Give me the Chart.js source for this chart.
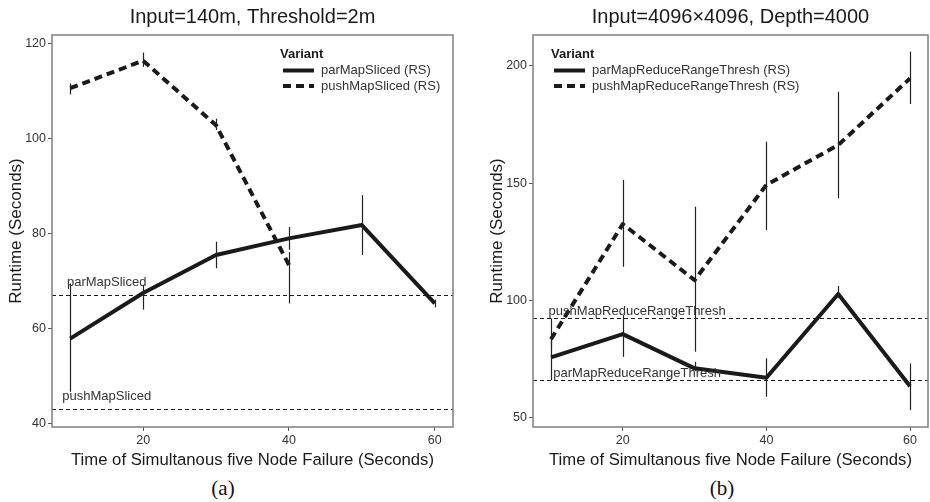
<!DOCTYPE html>
<html>
<head>
<meta charset="utf-8">
<script src="https://cdn.jsdelivr.net/npm/chart.js@4.4.1/dist/chart.umd.min.js"></script>
<style>
  html, body { margin: 0; padding: 0; background: #fff; }
  body { width: 930px; height: 502px; overflow: hidden; position: relative; }
  canvas { position: absolute; top: 0; }
  #chartA { left: 0; }
  #chartB { left: 481px; }
  .cap { position: absolute; width: 100px; text-align: center; top: 476px;
         font-family: "Liberation Serif", "DejaVu Serif", serif; font-size: 21px; line-height: 24px; color: #111; }
</style>
</head>
<body>
<canvas id="chartA" width="465" height="475"></canvas>
<canvas id="chartB" width="459" height="475"></canvas>
<div class="cap" style="left:173px">(a)</div>
<div class="cap" style="left:672px">(b)</div>
<script>
// failure times (x)
var times = [10, 20, 30, 40, 50, 60];
var xTicks = [20, 40, 60];

// panel (a)
var parMapSliced   = [57.8, 67.4, 75.4, 78.9, 81.7, 65.2];
var parMapSlicedLo = [46.6, 63.9, 72.6, 76.5, 75.4, 64.4];
var parMapSlicedHi = [69.4, 69.1, 78.2, 81.3, 88.0, 66.0];
var pushMapSliced   = [110.5, 116.3, 102.7, 73.3];
var pushMapSlicedLo = [109.2, 115.0, 101.7, 65.2];
var pushMapSlicedHi = [111.5, 118.0, 104.1, 76.0];
var yTicksA = [40, 60, 80, 100, 120];
var baselineNamesA = ['parMapSliced', 'pushMapSliced'];
var baselineA      = [67.0, 42.9];
var baselineLabelXA = [15, 15];
var baselineLabelYA = [69.7, 45.7];

// panel (b)
var parMapReduce   = [75.8, 85.7, 71.1, 67.1, 102.8, 63.5];
var parMapReduceLo = [66.1, 76.0, 70.0, 59.0, 101.0, 53.3];
var parMapReduceHi = [85.0, 93.8, 73.9, 75.4, 106.2, 73.2];
var pushMapReduce   = [83.5, 132.6, 108.7, 149.3, 166.3, 194.7];
var pushMapReduceLo = [80.0, 114.4, 78.2, 130.1, 143.6, 183.8];
var pushMapReduceHi = [92.4, 151.4, 140.0, 167.7, 189.0, 206.1];
var yTicksB = [50, 100, 150, 200];
var baselineNamesB = ['pushMapReduceRangeThresh', 'parMapReduceRangeThresh'];
var baselineB      = [92.4, 66.1];
var baselineLabelXB = [22, 22];
var baselineLabelYB = [95.2, 69.1];

Chart.defaults.font.family = '"Liberation Sans", Arial, Helvetica, sans-serif';
Chart.defaults.color = '#333';

function pts(vals) {
	return vals.map(function(v, i) { return {x: times[i], y: v}; });
}

// error bars, reference lines, panel border and the "Variant" legend
var extras = {
	id: 'extras',
	afterDatasetsDraw: function(chart) {
		var ctx = chart.ctx, a = chart.chartArea;
		var xs = chart.scales.x, ys = chart.scales.y;
		var o = chart.options.plugins.extras;
		ctx.save();

		// reference lines + labels
		ctx.strokeStyle = '#1a1a1a';
		ctx.lineWidth = 1;
		ctx.setLineDash([4, 3]);
		o.lines.forEach(function(v) {
			var py = Math.round(ys.getPixelForValue(v)) + 0.5;
			ctx.beginPath();
			ctx.moveTo(a.left, py);
			ctx.lineTo(a.right, py);
			ctx.stroke();
		});
		ctx.setLineDash([]);
		ctx.fillStyle = '#333';
		ctx.font = '13px "Liberation Sans", Arial, sans-serif';
		ctx.textAlign = 'center';
		ctx.textBaseline = 'middle';
		o.names.forEach(function(n, i) {
			ctx.fillText(n, xs.getPixelForValue(o.labelX[i]), ys.getPixelForValue(o.labelY[i]));
		});

		// error bars
		ctx.strokeStyle = '#222';
		ctx.lineWidth = 1.2;
		chart.data.datasets.forEach(function(ds) {
			ds.errLo.forEach(function(lo, i) {
				var px = Math.round(xs.getPixelForValue(times[i])) + 0.5;
				ctx.beginPath();
				ctx.moveTo(px, ys.getPixelForValue(lo));
				ctx.lineTo(px, ys.getPixelForValue(ds.errHi[i]));
				ctx.stroke();
			});
		});

		// panel border
		ctx.strokeStyle = '#7f7f7f';
		ctx.lineWidth = 1.5;
		ctx.strokeRect(a.left, a.top, a.right - a.left, a.bottom - a.top);

		// legend
		var lx = o.legend.x, ly = o.legend.y;
		ctx.fillStyle = '#1a1a1a';
		ctx.textAlign = 'left';
		ctx.font = 'bold 13px "Liberation Sans", Arial, sans-serif';
		ctx.fillText('Variant', lx, ly);
		ctx.font = '13px "Liberation Sans", Arial, sans-serif';
		chart.data.datasets.forEach(function(ds, i) {
			var yy = ly + 16.5 + i * 15.5;
			ctx.strokeStyle = '#1a1a1a';
			ctx.lineWidth = 4;
			ctx.lineCap = 'butt';
			ctx.setLineDash(ds.borderDash || []);
			ctx.beginPath();
			ctx.moveTo(lx + 3, yy);
			ctx.lineTo(lx + 34, yy);
			ctx.stroke();
			ctx.setLineDash([]);
			ctx.fillStyle = '#333';
			ctx.fillText(ds.label, lx + 41, yy);
		});
		ctx.restore();
	}
};

function makePanel(id, title, sets, yMin, yMax, yTicks, extraOpts) {
	return new Chart(document.getElementById(id), {
		type: 'line',
		data: {
			datasets: sets.map(function(s) {
				return {
					label: s.label,
					data: pts(s.vals),
					errLo: s.lo,
					errHi: s.hi,
					borderColor: '#1a1a1a',
					borderWidth: 4,
					borderDash: s.dash,
					borderCapStyle: 'butt',
					borderJoinStyle: 'round',
					pointRadius: 0,
					tension: 0,
					fill: false
				};
			})
		},
		options: {
			responsive: false,
			animation: false,
			layout: { padding: { left: 0, right: 12, top: 0, bottom: 0 } },
			plugins: {
				legend: { display: false },
				tooltip: { enabled: false },
				title: {
					display: true, text: title, fullSize: false,
					color: '#1a1a1a', font: { size: 20, weight: 'normal' },
					padding: { top: 5, bottom: 6 }
				},
				extras: extraOpts
			},
			scales: {
				x: {
					type: 'linear', min: 7.5, max: 62.5,
					afterBuildTicks: function(s) { s.ticks = xTicks.map(function(v) { return {value: v}; }); },
					afterFit: function(s) { s.height = 48; },
					grid: { drawOnChartArea: false, drawTicks: true, tickLength: 4, color: '#555' },
					border: { display: false },
					ticks: { color: '#333', font: { size: 12.5 }, padding: 2, maxRotation: 0 },
					title: { display: true, text: 'Time of Simultanous five Node Failure (Seconds)',
						color: '#1a1a1a', font: { size: 16.7 }, padding: { top: 0, bottom: 4.8 } }
				},
				y: {
					type: 'linear', min: yMin, max: yMax,
					afterBuildTicks: function(s) { s.ticks = yTicks.map(function(v) { return {value: v}; }); },
					afterFit: function(s) { s.width = 52; },
					grid: { drawOnChartArea: false, drawTicks: true, tickLength: 4, color: '#555' },
					border: { display: false },
					ticks: { color: '#333', font: { size: 12.5 }, padding: 2 },
					title: { display: true, text: 'Runtime (Seconds)',
						color: '#1a1a1a', font: { size: 17 }, padding: { top: 6, bottom: 0 } }
				}
			}
		},
		plugins: [extras]
	});
}

makePanel('chartA', 'Input=140m, Threshold=2m', [
	{label: 'parMapSliced (RS)', vals: parMapSliced, lo: parMapSlicedLo, hi: parMapSlicedHi, dash: []},
	{label: 'pushMapSliced (RS)', vals: pushMapSliced, lo: pushMapSlicedLo, hi: pushMapSlicedHi, dash: [8, 5]}
], 39.2, 121.7, yTicksA, {
	lines: baselineA, names: baselineNamesA, labelX: baselineLabelXA, labelY: baselineLabelYA,
	legend: {x: 280, y: 54}
});

makePanel('chartB', 'Input=4096\u00d74096, Depth=4000', [
	{label: 'parMapReduceRangeThresh (RS)', vals: parMapReduce, lo: parMapReduceLo, hi: parMapReduceHi, dash: []},
	{label: 'pushMapReduceRangeThresh (RS)', vals: pushMapReduce, lo: pushMapReduceLo, hi: pushMapReduceHi, dash: [8, 5]}
], 46.1, 213.2, yTicksB, {
	lines: baselineB, names: baselineNamesB, labelX: baselineLabelXB, labelY: baselineLabelYB,
	legend: {x: 70, y: 54}
});
</script>
</body>
</html>
